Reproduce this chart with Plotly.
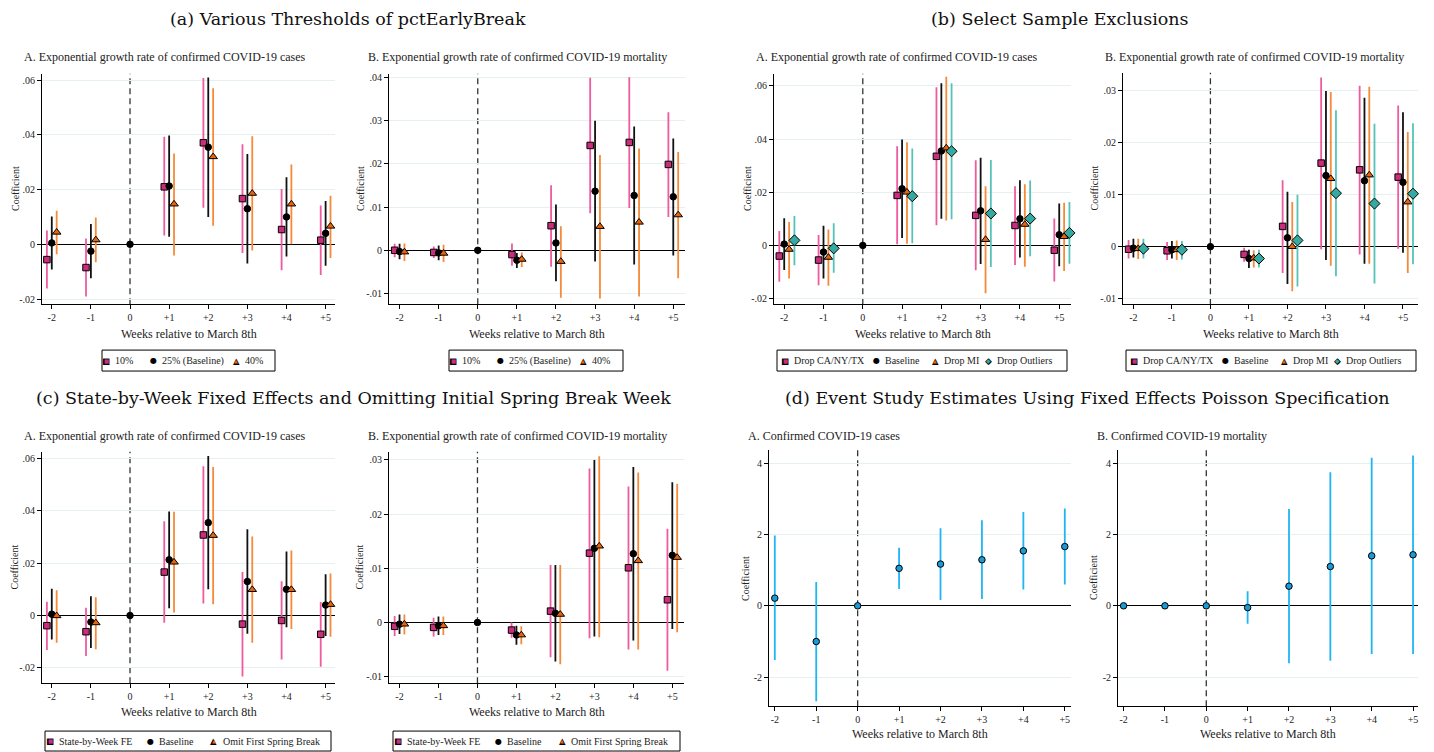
import plotly.graph_objects as go

FONT = "Liberation Serif"
TITLE_FONT = "DejaVu Serif"
SYM_FONT = "DejaVu Sans"
W, H = 1434, 752
PAGE_OFF = 8  # default page body margin; positions below are in screen pixels

weeks = [-2, -1, 0, 1, 2, 3, 4, 5]
week_labels = ["-2", "-1", "0", "+1", "+2", "+3", "+4", "+5"]

cases_ticks = [-0.02, 0.0, 0.02, 0.04, 0.06]
cases_tick_text = ["-.02", "0", ".02", ".04", ".06"]
mort_ticks_a = [-0.01, 0.0, 0.01, 0.02, 0.03, 0.04]
mort_tick_text_a = ["-.01", "0", ".01", ".02", ".03", ".04"]
mort_ticks = [-0.01, 0.0, 0.01, 0.02, 0.03]
mort_tick_text = ["-.01", "0", ".01", ".02", ".03"]
pois_ticks = [-2, 0, 2, 4]
pois_tick_text = ["-2", "0", "2", "4"]

# Baseline (25%)
base_cases = [0.0005, -0.0025, 0.0, 0.0213, 0.0355, 0.0130, 0.0100, 0.0040]
base_cases_lo = [-0.0092, -0.0124, 0.0, 0.0028, 0.0100, -0.0070, -0.0045, -0.0078]
base_cases_hi = [0.0102, 0.0074, 0.0, 0.0398, 0.0610, 0.0330, 0.0245, 0.0158]
base_mort = [-0.0003, -0.0006, 0.0, -0.0023, 0.0017, 0.0137, 0.0127, 0.0124]
base_mort_lo = [-0.0021, -0.0023, 0.0, -0.0041, -0.0072, -0.0026, -0.0033, -0.0012]
base_mort_hi = [0.0015, 0.0011, 0.0, -0.0006, 0.0106, 0.0300, 0.0287, 0.0259]

# 10% threshold
t10_cases = [-0.0056, -0.0085, None, 0.0210, 0.0371, 0.0167, 0.0054, 0.0015]
t10_cases_lo = [-0.0162, -0.0191, None, 0.0032, 0.0134, -0.0032, -0.0095, -0.0112]
t10_cases_hi = [0.0050, 0.0021, None, 0.0393, 0.0608, 0.0366, 0.0202, 0.0142]
t10_mort = [0.0000, -0.0005, None, -0.0010, 0.0057, 0.0243, 0.0250, 0.0199]
t10_mort_lo = [-0.0016, -0.0018, None, -0.0036, -0.0038, 0.0086, 0.0098, 0.0077]
t10_mort_hi = [0.0015, 0.0009, None, 0.0016, 0.0151, 0.0400, 0.0401, 0.0320]

# 40% threshold
t40_cases = [0.0044, 0.0016, None, 0.0147, 0.0320, 0.0186, 0.0147, 0.0066]
t40_cases_lo = [-0.0036, -0.0066, None, -0.0041, 0.0068, -0.0023, 0.0000, -0.0050]
t40_cases_hi = [0.0123, 0.0098, None, 0.0332, 0.0570, 0.0395, 0.0292, 0.0177]
t40_mort = [-0.0004, -0.0007, None, -0.0021, -0.0026, 0.0055, 0.0065, 0.0082]
t40_mort_lo = [-0.0025, -0.0027, None, -0.0039, -0.0110, -0.0112, -0.0107, -0.0065]
t40_mort_hi = [0.0016, 0.0013, None, -0.0005, 0.0056, 0.0221, 0.0236, 0.0228]

# Drop CA/NY/TX
dcnt_cases = [-0.0040, -0.0055, None, 0.0188, 0.0335, 0.0113, 0.0075, -0.0018]
dcnt_cases_lo = [-0.0137, -0.0150, None, 0.0004, 0.0076, -0.0093, -0.0074, -0.0136]
dcnt_cases_hi = [0.0054, 0.0039, None, 0.0373, 0.0595, 0.0320, 0.0222, 0.0101]
dcnt_mort = [-0.0005, -0.0008, None, -0.0015, 0.0039, 0.0161, 0.0148, 0.0134]
dcnt_mort_lo = [-0.0023, -0.0026, None, -0.0029, -0.0051, -0.0005, -0.0015, -0.0004]
dcnt_mort_hi = [0.0013, 0.0009, None, -0.0002, 0.0128, 0.0326, 0.0310, 0.0272]

# Drop MI
dmi_cases = [-0.0015, -0.0045, None, 0.0200, 0.0366, 0.0022, 0.0079, 0.0033]
dmi_cases_lo = [-0.0124, -0.0152, None, 0.0006, 0.0094, -0.0180, -0.0080, -0.0096]
dmi_cases_hi = [0.0088, 0.0060, None, 0.0388, 0.0634, 0.0222, 0.0230, 0.0160]
dmi_mort = [-0.0004, -0.0006, None, -0.0022, 0.0000, 0.0131, 0.0138, 0.0086]
dmi_mort_lo = [-0.0024, -0.0026, None, -0.0040, -0.0086, -0.0037, -0.0033, -0.0051]
dmi_mort_hi = [0.0015, 0.0012, None, -0.0007, 0.0086, 0.0298, 0.0308, 0.0221]

# Drop Outliers
dout_cases = [0.0019, -0.0011, None, 0.0185, 0.0354, 0.0120, 0.0101, 0.0047]
dout_cases_lo = [-0.0075, -0.0103, None, 0.0008, 0.0098, -0.0081, -0.0041, -0.0069]
dout_cases_hi = [0.0111, 0.0083, None, 0.0364, 0.0610, 0.0321, 0.0244, 0.0163]
dout_mort = [-0.0004, -0.0006, None, -0.0023, 0.0012, 0.0103, 0.0083, 0.0102]
dout_mort_lo = [-0.0023, -0.0025, None, -0.0040, -0.0077, -0.0057, -0.0071, -0.0034]
dout_mort_hi = [0.0015, 0.0011, None, -0.0006, 0.0100, 0.0263, 0.0237, 0.0238]

# State-by-Week FE
sbw_cases = [-0.0039, -0.0062, None, 0.0166, 0.0308, -0.0033, -0.0019, -0.0072]
sbw_cases_lo = [-0.0132, -0.0155, None, -0.0028, 0.0046, -0.0233, -0.0168, -0.0196]
sbw_cases_hi = [0.0053, 0.0030, None, 0.0360, 0.0571, 0.0166, 0.0131, 0.0052]
sbw_mort = [-0.0007, -0.0009, None, -0.0014, 0.0021, 0.0128, 0.0101, 0.0042]
sbw_mort_lo = [-0.0025, -0.0026, None, -0.0028, -0.0064, -0.0029, -0.0050, -0.0089]
sbw_mort_hi = [0.0012, 0.0009, None, 0.0000, 0.0106, 0.0284, 0.0251, 0.0173]

# Omit First Spring Break
ofsb_cases = [-0.0001, -0.0028, None, 0.0204, 0.0306, 0.0099, 0.0099, 0.0042]
ofsb_cases_lo = [-0.0104, -0.0129, None, 0.0011, 0.0043, -0.0104, -0.0052, -0.0081]
ofsb_cases_hi = [0.0097, 0.0070, None, 0.0397, 0.0568, 0.0302, 0.0249, 0.0161]
ofsb_mort = [-0.0003, -0.0006, None, -0.0023, 0.0015, 0.0141, 0.0114, 0.0120]
ofsb_mort_lo = [-0.0022, -0.0023, None, -0.0040, -0.0077, -0.0027, -0.0050, -0.0018]
ofsb_mort_hi = [0.0015, 0.0011, None, -0.0007, 0.0106, 0.0307, 0.0277, 0.0256]

# Poisson specification
pois_cases = [0.215, -1.00, 0.0, 1.05, 1.17, 1.29, 1.54, 1.66]
pois_cases_lo = [-1.52, -2.67, 0.0, 0.47, 0.16, 0.19, 0.46, 0.60]
pois_cases_hi = [1.97, 0.67, 0.0, 1.63, 2.17, 2.40, 2.63, 2.73]
pois_mort = [0.0, 0.0, 0.0, -0.05, 0.55, 1.10, 1.40, 1.43]
pois_mort_lo = [0.0, 0.0, 0.0, -0.50, -1.61, -1.54, -1.35, -1.35]
pois_mort_hi = [0.0, 0.0, 0.0, 0.41, 2.71, 3.74, 4.15, 4.21]

# ---------------- styles ----------------
PINK = dict(symbol="square", fill="#c92d7b", ci="#ee5b9e", size=6.5, glyph="\u25A0", gsz=(8.5, 5.5))
BLACK = dict(symbol="circle", fill="#000000", ci="#111111", size=6.5, glyph="\u25CF", gsz=(8, 0))
ORANGE = dict(symbol="triangle-up", fill="#e8640c", ci="#f48a3a", size=7.5, glyph="\u25B2", gsz=(8.5, 5.0))
TEAL = dict(symbol="diamond", fill="#35aaa0", ci="#56c3b9", size=8.5, glyph="\u25C6", gsz=(9, 6.0))
BLUE = dict(symbol="circle", fill="#1b9ad6", ci="#1fb5f2", size=6.5, glyph="\u25CF", gsz=(8, 0))

TXT = "#222222"
GRID = "#e7f0f1"

LEG3_OFF = [4, 51, 134]
LEG4_OFF = [8, 99, 158, 211]
LEGC_OFF = [5, 105, 169]


def sx(p):
    return (p - PAGE_OFF) / W


def sy(p):
    return 1 - (p - PAGE_OFF) / H


panels = [
    dict(dom=(42, 335, 72, 303), xr=(-2.25, 5.24), yr=(-0.0219, 0.0623),
         yt=cases_ticks, ytt=cases_tick_text,
         title="A. Exponential growth rate of confirmed COVID-19 cases", tpos=(22, 55),
         xtitle_y=333, ytitle_x=15, leg=((102, 349, 275, 370), LEG3_OFF),
         series=[("10%", t10_cases, t10_cases_lo, t10_cases_hi, PINK, -0.125),
                 ("25% (Baseline)", base_cases, base_cases_lo, base_cases_hi, BLACK, 0.0),
                 ("40%", t40_cases, t40_cases_lo, t40_cases_hi, ORANGE, 0.125)]),
    dict(dom=(389, 685, 72, 303), xr=(-2.27, 5.30), yr=(-0.0125, 0.0409),
         yt=mort_ticks_a, ytt=mort_tick_text_a,
         title="B. Exponential growth rate of confirmed COVID-19 mortality", tpos=(366, 55),
         xtitle_y=333, ytitle_x=360, leg=((449, 349, 623, 370), LEG3_OFF),
         series=[("10%", t10_mort, t10_mort_lo, t10_mort_hi, PINK, -0.125),
                 ("25% (Baseline)", base_mort, base_mort_lo, base_mort_hi, BLACK, 0.0),
                 ("40%", t40_mort, t40_mort_lo, t40_mort_hi, ORANGE, 0.125)]),
    dict(dom=(774, 1071, 72, 303), xr=(-2.26, 5.30), yr=(-0.0221, 0.0645),
         yt=cases_ticks, ytt=cases_tick_text,
         title="A. Exponential growth rate of confirmed COVID-19 cases", tpos=(754, 55),
         xtitle_y=333, ytitle_x=747, leg=((777, 349, 1067, 370), LEG4_OFF),
         series=[("Drop CA/NY/TX", dcnt_cases, dcnt_cases_lo, dcnt_cases_hi, PINK, -0.125),
                 ("Baseline", base_cases, base_cases_lo, base_cases_hi, BLACK, 0.0),
                 ("Drop MI", dmi_cases, dmi_cases_lo, dmi_cases_hi, ORANGE, 0.125),
                 ("Drop Outliers", dout_cases, dout_cases_lo, dout_cases_hi, TEAL, 0.26)]),
    dict(dom=(1123, 1418, 71, 303), xr=(-2.27, 5.39), yr=(-0.0111, 0.0335),
         yt=mort_ticks, ytt=mort_tick_text,
         title="B. Exponential growth rate of confirmed COVID-19 mortality", tpos=(1103, 55),
         xtitle_y=333, ytitle_x=1095, leg=((1126, 349, 1416, 370), LEG4_OFF),
         series=[("Drop CA/NY/TX", dcnt_mort, dcnt_mort_lo, dcnt_mort_hi, PINK, -0.125),
                 ("Baseline", base_mort, base_mort_lo, base_mort_hi, BLACK, 0.0),
                 ("Drop MI", dmi_mort, dmi_mort_lo, dmi_mort_hi, ORANGE, 0.125),
                 ("Drop Outliers", dout_mort, dout_mort_lo, dout_mort_hi, TEAL, 0.26)]),
    dict(dom=(42, 335, 451, 683), xr=(-2.25, 5.24), yr=(-0.0259, 0.0626),
         yt=cases_ticks, ytt=cases_tick_text,
         title="A. Exponential growth rate of confirmed COVID-19 cases", tpos=(22, 435),
         xtitle_y=712, ytitle_x=15, leg=((45, 731, 331, 751), LEGC_OFF),
         series=[("State-by-Week FE", sbw_cases, sbw_cases_lo, sbw_cases_hi, PINK, -0.125),
                 ("Baseline", base_cases, base_cases_lo, base_cases_hi, BLACK, 0.0),
                 ("Omit First Spring Break", ofsb_cases, ofsb_cases_lo, ofsb_cases_hi, ORANGE, 0.125)]),
    dict(dom=(389, 684, 451, 683), xr=(-2.27, 5.30), yr=(-0.0112, 0.0315),
         yt=mort_ticks, ytt=mort_tick_text,
         title="B. Exponential growth rate of confirmed COVID-19 mortality", tpos=(366, 435),
         xtitle_y=712, ytitle_x=360, leg=((393, 731, 680, 751), LEGC_OFF),
         series=[("State-by-Week FE", sbw_mort, sbw_mort_lo, sbw_mort_hi, PINK, -0.125),
                 ("Baseline", base_mort, base_mort_lo, base_mort_hi, BLACK, 0.0),
                 ("Omit First Spring Break", ofsb_mort, ofsb_mort_lo, ofsb_mort_hi, ORANGE, 0.125)]),
    dict(dom=(769, 1071, 449, 706), xr=(-2.14, 5.15), yr=(-2.81, 4.37),
         yt=pois_ticks, ytt=pois_tick_text,
         title="A. Confirmed COVID-19 cases", tpos=(746, 435),
         xtitle_y=734, ytitle_x=746, leg=None,
         series=[("Poisson", pois_cases, pois_cases_lo, pois_cases_hi, BLUE, 0.0)]),
    dict(dom=(1118, 1418, 449, 706), xr=(-2.135, 5.12), yr=(-2.81, 4.37),
         yt=pois_ticks, ytt=pois_tick_text,
         title="B. Confirmed COVID-19 mortality", tpos=(1095, 435),
         xtitle_y=734, ytitle_x=1094, leg=None,
         series=[("Poisson", pois_mort, pois_mort_lo, pois_mort_hi, BLUE, 0.0)]),
]

fig = go.Figure()
layout = dict(width=W, height=H, margin=dict(l=0, r=0, t=0, b=0),
              paper_bgcolor="white", plot_bgcolor="white",
              font=dict(family=FONT, color=TXT), showlegend=False)
annotations = []
shapes = []


def ann(text, x, y, size, family=FONT, color=TXT, xanchor="center", **kw):
    d = dict(text=text, x=sx(x), y=sy(y), xref="paper", yref="paper",
             xanchor=xanchor, yanchor="middle", showarrow=False,
             font=dict(family=family, size=size, color=color))
    d.update(kw)
    return d


for i, p in enumerate(panels):
    n = "" if i == 0 else str(i + 1)
    xa, ya = "x" + n, "y" + n
    x0, x1, y0, y1 = p["dom"]
    layout["xaxis" + n] = dict(
        domain=[sx(x0), sx(x1)], range=list(p["xr"]), anchor=ya,
        tickmode="array", tickvals=weeks, ticktext=week_labels,
        showgrid=False, zeroline=False, showline=True, linecolor="#000", linewidth=1,
        ticks="outside", ticklen=4, tickcolor="#000", tickwidth=1,
        tickfont=dict(family=FONT, size=10, color=TXT), fixedrange=True)
    layout["yaxis" + n] = dict(
        domain=[sy(y1), sy(y0)], range=list(p["yr"]), anchor=xa,
        tickmode="array", tickvals=p["yt"], ticktext=p["ytt"],
        showgrid=True, gridcolor=GRID, gridwidth=1,
        zeroline=True, zerolinecolor="#000", zerolinewidth=1.2,
        showline=True, linecolor="#000", linewidth=1,
        ticks="outside", ticklen=4, tickcolor="#000", tickwidth=1,
        tickfont=dict(family=FONT, size=10, color=TXT), fixedrange=True)

    for (name, vals, lo, hi, st, off) in p["series"]:
        xs = [w + off for w in weeks]
        up = [(h - v) if v is not None else 0 for v, h in zip(vals, hi)]
        dn = [(v - l) if v is not None else 0 for v, l in zip(vals, lo)]
        fig.add_trace(go.Scatter(
            x=xs, y=vals, mode="markers", name=name, xaxis=xa, yaxis=ya,
            marker=dict(symbol=st["symbol"], size=st["size"], color=st["fill"],
                        line=dict(color="#000", width=1)),
            error_y=dict(type="data", symmetric=False, array=up, arrayminus=dn,
                         color=st["ci"], thickness=1.8, width=0),
            cliponaxis=False))

    # legend box keyed to this subplot's series
    if p["leg"] is not None:
        (L, T, R, B), offs = p["leg"]
        cy = (T + B) / 2
        shapes.append(dict(type="rect", xref="paper", yref="paper",
                           x0=sx(L), x1=sx(R), y0=sy(B), y1=sy(T),
                           line=dict(color="#000", width=1), fillcolor="white", layer="below"))
        for (name, vals, lo, hi, st, off), o in zip(p["series"], offs):
            gx = L + o
            outer, inner = st["gsz"]
            annotations.append(ann(st["glyph"], gx, cy, outer, family=SYM_FONT, color="#000"))
            if inner:
                annotations.append(ann(st["glyph"], gx, cy, inner, family=SYM_FONT, color=st["fill"]))
            annotations.append(ann(name, gx + 7, cy, 10, xanchor="left"))

    # vertical dashed reference line at week 0
    shapes.append(dict(type="line", xref=xa, x0=0, x1=0, yref=ya + " domain", y0=0, y1=1,
                       line=dict(color="#333", width=1.3, dash="6px,4px"), layer="below"))

    tx, ty = p["tpos"]
    annotations.append(ann(p["title"], tx, ty, 12, xanchor="left"))
    annotations.append(ann("Weeks relative to March 8th", (x0 + x1) / 2, p["xtitle_y"], 12))
    annotations.append(ann("Coefficient", p["ytitle_x"], (y0 + y1) / 2, 10, textangle=-90))

panel_titles = [
    ("(a) Various Thresholds of pctEarlyBreak", 348, 17),
    ("(b) Select Sample Exclusions", 1060, 17),
    ("(c) State-by-Week Fixed Effects and Omitting Initial Spring Break Week", 353, 397),
    ("(d) Event Study Estimates Using Fixed Effects Poisson Specification", 1087, 397),
]
for t, x, y in panel_titles:
    annotations.append(ann(t, x, y, 17.5, family=TITLE_FONT, color="#111"))

layout["annotations"] = annotations
layout["shapes"] = shapes
fig.update_layout(**layout)
fig.write_html("out.html")
